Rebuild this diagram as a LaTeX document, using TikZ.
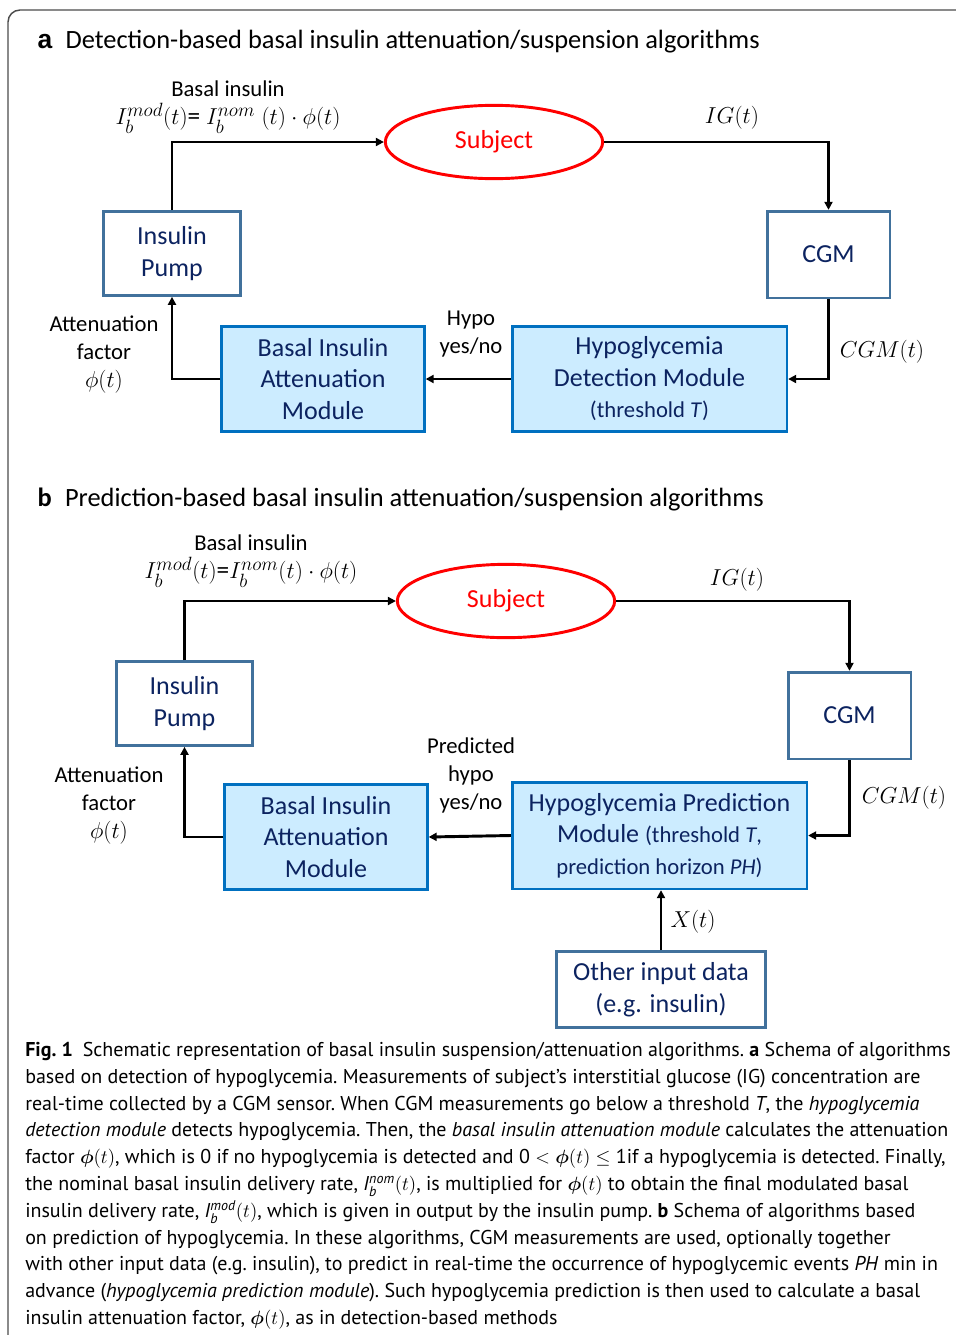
\documentclass[tikz,border=0pt]{standalone}
\usepackage{amsmath}
\usepackage{fontspec}
\setmainfont{Carlito}
\newfontfamily\capfont{PT Sans}
\newfontfamily\arialfont{Liberation Sans}
\usetikzlibrary{shapes.geometric, arrows.meta, positioning}
\definecolor{pumpblue}{RGB}{65,113,156}
\definecolor{navy}{RGB}{12,35,96}
\definecolor{modfill}{RGB}{204,236,255}
\definecolor{modblue}{RGB}{0,112,192}

\begin{document}
\begin{tikzpicture}[x=0.75pt, y=-0.75pt,
    box/.style={rectangle, draw=pumpblue, line width=2pt, fill=white, text=navy, align=center, inner sep=0pt, font=\fontsize{19.5}{23.6}\selectfont},
    module/.style={box, draw=modblue, fill=modfill},
    subject/.style={ellipse, draw=red, line width=2.2pt, text=red, minimum width=163pt, minimum height=55pt, inner sep=0pt, font=\fontsize{19.5}{23.6}\selectfont},
    arrow/.style={-{Triangle[length=6pt, width=6pt]}, line width=2.2pt},
    lbl/.style={align=center, font=\fontsize{17}{21}\selectfont},
    ttl/.style={anchor=west, font=\fontsize{19.8}{23}\selectfont}
]
\useasboundingbox (0,0) rectangle (956,1335);
\draw[black!70, line width=1.1pt, rounded corners=9pt] (8,1340) -- (8,10) -- (960,10);

% a: detection-based
\node[ttl] (tita) at (33,42) {{\arialfont\bfseries a}\enspace Detection-based basal insulin attenuation/suspension algorithms};
\node[subject] (subja) at (494,142) {Subject};
\node[box, minimum width=103pt, minimum height=63pt] (pumpa) at (172,253.5) {Insulin\\Pump};
\node[box, minimum width=92pt, minimum height=65pt] (cgma) at (828.5,254.5) {CGM};
\node[module, minimum width=152pt, minimum height=79pt] (atta) at (323,379) {Basal Insulin\\Attenuation\\Module};
\node[module, minimum width=206pt, minimum height=79pt] (deta) at (649.5,379) {Hypoglycemia\\Detection Module\\{\fontsize{17}{21}\selectfont(threshold \textit{T})}};

\node[lbl] (basala) at (228,107) {Basal insulin\\{\fontsize{19}{21}\selectfont$I_b^{mod}(t)$= $I_b^{nom}\;(t)\cdot\phi(t)$}};
\node[lbl] (iga) at (732,118) {$IG(t)$};
\node[lbl] (cgmta) at (882,352) {$CGM(t)$};
\node[lbl] (hypoa) at (471,334) {Hypo\\yes/no};
\node[lbl] (facta) at (104,355) {Attenuation\\factor\\{\fontsize{19}{21}\selectfont$\phi(t)$}};

\draw[arrow] (pumpa.north) |- (subja.west);
\draw[arrow] (subja.east) -| (cgma.north);
\draw[arrow] (cgma.south) |- (deta.east);
\draw[arrow] (deta.west) -- (atta.east);
\draw[arrow] (atta.west) -| (pumpa.south);

% b: prediction-based
\node[ttl] (titb) at (33,499) {\textbf{b}\enspace Prediction-based basal insulin attenuation/suspension algorithms};
\node[subject] (subjb) at (506,601) {Subject};
\node[box, minimum width=102pt, minimum height=63pt] (pumpb) at (184.5,703.5) {Insulin\\Pump};
\node[box, minimum width=92pt, minimum height=65pt] (cgmb) at (849.5,715.5) {CGM};
\node[module, minimum width=152pt, minimum height=79pt] (attb) at (326,837) {Basal Insulin\\Attenuation\\Module};
\node[module, minimum width=221pt, minimum height=80pt] (predb) at (659.5,835.5) {Hypoglycemia Prediction\\Module {\fontsize{17}{21}\selectfont(threshold \textit{T},}\\{\fontsize{17}{21}\selectfont prediction horizon \textit{PH})}};
\node[box, minimum width=157pt, minimum height=57pt] (otherb) at (661,989.5) {Other input data\\(e.g. insulin)};

\node[lbl] (basalb) at (251,561) {Basal insulin\\{\fontsize{19}{21}\selectfont$I_b^{mod}(t)$=$I_b^{nom}(t)\cdot\phi(t)$}};
\node[lbl] (igb) at (737,580) {$IG(t)$};
\node[lbl] (cgmtb) at (904,798) {$CGM(t)$};
\node[lbl] (hypob) at (471,775) {Predicted\\hypo\\yes/no};
\node[lbl] (factb) at (109,806) {Attenuation\\factor\\{\fontsize{19}{21}\selectfont$\phi(t)$}};
\node[lbl] (xb) at (693,922) {$X(t)$};

\draw[arrow] (pumpb.north) |- (subjb.west);
\draw[arrow] (subjb.east) -| (cgmb.north);
\draw[arrow] (cgmb.south) |- (predb.east);
\draw[arrow] (predb.west) -- (attb.east);
\draw[arrow] (attb.west) -| (pumpb.south);
\draw[arrow] (otherb.north) -- (otherb.north |- predb.south);

% caption
\node[anchor=north west, align=left, inner sep=0pt, font=\capfont\fontsize{15}{20.1}\selectfont\frenchspacing] (capt) at (25,1042) {%
\textbf{Fig. 1}\enspace Schematic representation of basal insulin suspension/attenuation algorithms. \textbf{a} Schema of algorithms\\
based on detection of hypoglycemia. Measurements of subject’s interstitial glucose (IG) concentration are\\
real-time collected by a CGM sensor. When CGM measurements go below a threshold \textit{T}, the \textit{hypoglycemia}\\
\textit{detection module} detects hypoglycemia. Then, the \textit{basal insulin attenuation module} calculates the attenuation\\
factor $\boldsymbol{\phi}(t)$, which is 0 if no hypoglycemia is detected and 0 $<\boldsymbol{\phi}(t)\leq$ 1if a hypoglycemia is detected. Finally,\\
the nominal basal insulin delivery rate, \smash{\textit{I}$_{\textit{b}}^{\textit{nom}}(t)$}, is multiplied for $\boldsymbol{\phi}(t)$ to obtain the final modulated basal\\
insulin delivery rate, \smash{\textit{I}$_{\textit{b}}^{\textit{mod}}(t)$}, which is given in output by the insulin pump. \textbf{b} Schema of algorithms based\\
on prediction of hypoglycemia. In these algorithms, CGM measurements are used, optionally together\\
with other input data (e.g. insulin), to predict in real-time the occurrence of hypoglycemic events \textit{PH} min in\\
advance (\textit{hypoglycemia prediction module}). Such hypoglycemia prediction is then used to calculate a basal\\
insulin attenuation factor, $\boldsymbol{\phi}(t)$, as in detection-based methods};
\end{tikzpicture}
\end{document}
